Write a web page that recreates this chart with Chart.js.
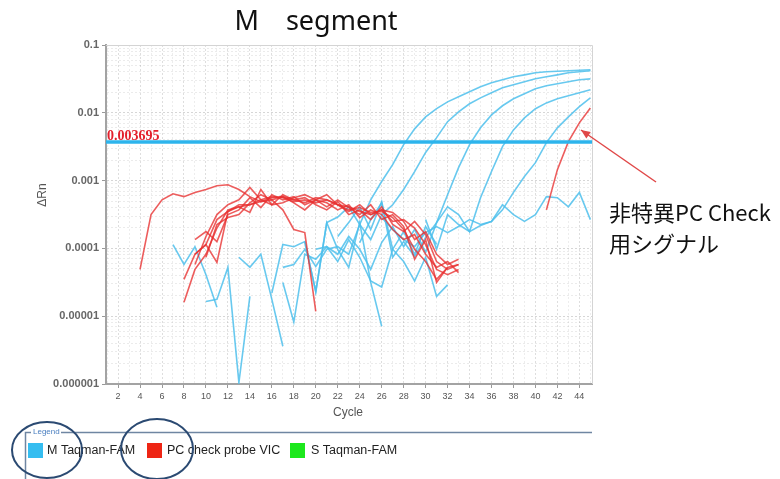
<!DOCTYPE html>
<html><head><meta charset="utf-8">
<script src="https://cdn.jsdelivr.net/npm/chart.js@4.4.1/dist/chart.umd.min.js"></script>
<style>html,body{margin:0;padding:0;background:#fff;}canvas{display:block;}</style>
</head><body>
<canvas id="c" width="780" height="479"></canvas>
<script>
// ---------- data ----------
const titleText = 'M\u3000segment';
const cycles = [1,2,3,4,5,6,7,8,9,10,11,12,13,14,15,16,17,18,19,20,21,22,23,24,25,26,27,28,29,30,31,32,33,34,35,36,37,38,39,40,41,42,43,44,45];
const xTickCycles = [2,4,6,8,10,12,14,16,18,20,22,24,26,28,30,32,34,36,38,40,42,44];
const yTickLabels = ['0.000001','0.00001','0.0001','0.001','0.01','0.1'];
const thresholdValue = 0.003695;
const thresholdLabel = '0.003695';

// M Taqman-FAM (blue) traces: start cycle + values
const mA_start = 17;
const mA = [5.25e-5,5.8e-5,9.7e-5,5.4e-5,9.7e-5,1.06e-4,8.2e-5,2.25e-4,5.2e-4,9.7e-4,1.72e-3,3.4e-3,5.8e-3,8.7e-3,1.15e-2,1.45e-2,1.72e-2,2.04e-2,2.42e-2,2.77e-2,3.07e-2,3.40e-2,3.63e-2,3.89e-2,4.03e-2,4.09e-2,4.17e-2,4.24e-2,4.31e-2];
const mB_start = 19;
const mB = [1.26e-4,2.3e-5,2.4e-4,2.9e-4,4.1e-4,2.25e-4,1.35e-4,3.15e-4,4.4e-4,7.4e-4,1.36e-3,2.6e-3,4.3e-3,7.4e-3,1.03e-2,1.36e-2,1.66e-2,1.97e-2,2.34e-2,2.59e-2,2.87e-2,3.17e-2,3.40e-2,3.63e-2,3.89e-2,4.03e-2,4.17e-2];
const mC_start = 20;
const mC = [9.7e-5,1.06e-4,8.2e-5,1.5e-4,9.7e-5,4.9e-5,1.22e-4,2.1e-4,1.06e-4,1.9e-4,8.7e-5,2.4e-4,6.2e-4,1.55e-3,3.4e-3,6.0e-3,9.3e-3,1.27e-2,1.61e-2,1.91e-2,2.26e-2,2.50e-2,2.68e-2,2.87e-2,3.07e-2,3.17e-2];
const mD_start = 24;
const mD = [1.22e-4,2.66e-4,4.7e-4,7.4e-5,1.26e-4,7.6e-5,1.45e-4,2.4e-4,4.1e-4,3.15e-4,1.77e-4,5.6e-4,1.36e-3,3.17e-3,5.6e-3,8.4e-3,1.15e-2,1.40e-2,1.61e-2,1.78e-2,1.97e-2,2.18e-2];
const mE_start = 26;
const mE = [2.85e-4,1.9e-4,1.35e-4,1.06e-4,1.71e-4,2.1e-4,1.71e-4,2.1e-4,2.66e-4,2.25e-4,2.5e-4,3.7e-4,6.7e-4,1.15e-3,1.84e-3,3.63e-3,6.0e-3,8.7e-3,1.23e-2,1.66e-2];
const mF_start = 30;
const mF = [2.66e-4,9.7e-5,3.15e-4,2.25e-4,1.77e-4,2.17e-4,2.5e-4,4.4e-4,3.15e-4,2.5e-4,3.15e-4,5.8e-4,5.6e-4,4.1e-4,6.7e-4,2.66e-4];
const mN1_start = 7;
const mN1 = [1.14e-4,5.8e-5,1.06e-4,4.1e-5,1.35e-5];
const mN2_start = 10;
const mN2 = [1.65e-5,1.77e-5,5.25e-5,1.05e-6,1.96e-5];
const mN3_start = 13;
const mN3 = [7.4e-5,5.25e-5,8.2e-5,1.77e-5,3.6e-6];
const mN4_start = 16;
const mN4 = [2.2e-5,1.14e-4,1.06e-4,1.26e-4,2.3e-5,2.4e-4,9.7e-5,5.25e-5,2.4e-4,3.15e-5,7.1e-6];
const mN5_start = 17;
const mN5 = [3.15e-5,8.2e-6,8.2e-5,6.9e-5,1.06e-4,6.4e-5,1.35e-4,7.4e-5,3.3e-5,2.7e-5,9.7e-5,6.4e-5,3.3e-5,7.4e-5,1.96e-5,2.9e-5];
const mN6_start = 22;
const mN6 = [1.5e-4,2.4e-4,4.1e-4,1.9e-4,4.9e-4,9.7e-5,1.77e-4,8.2e-5,2.1e-4,1.14e-4];

// PC check probe VIC (red) traces
const pc1_start = 4;
const pc1 = [4.9e-5,3.15e-4,5.2e-4,6.4e-4,5.8e-4,6.7e-4,7.4e-4,8.4e-4,8.7e-4,7.4e-4,5.8e-4,4.9e-4,5.6e-4,5.8e-4,5.2e-4,4.7e-4,5.6e-4,5.2e-4,4.4e-4,4.1e-4,3.5e-4,3.15e-4,3.7e-4,3.4e-4,2.5e-4,1.35e-4,1.77e-4,8.2e-5,5.8e-5,6.9e-5];
const pc2_start = 8;
const pc2 = [1.6e-5,4.9e-5,8.2e-5,2.0e-4,3.7e-4,4.1e-4,4.4e-4,5.2e-4,5.8e-4,5.6e-4,4.9e-4,5.2e-4,4.7e-4,5.2e-4,4.4e-4,3.7e-4,4.0e-4,3.4e-4,3.5e-4,2.85e-4,1.9e-4,9.7e-5,6.4e-5,3.5e-5,5.25e-5,5.8e-5];
const pc3_start = 9;
const pc3 = [1.35e-4,1.77e-4,1.26e-4,3.15e-4,3.7e-4,5.6e-4,4.0e-4,6.2e-4,5.2e-4,5.8e-4,4.4e-4,5.2e-4,6.2e-4,4.4e-4,3.5e-4,4.4e-4,3.15e-4,3.7e-4,2.5e-4,2.66e-4,2.0e-4,1.14e-4,4.9e-5,4.1e-5,4.9e-5];
const pc4_start = 9;
const pc4 = [8.2e-5,1.14e-4,6.2e-5,3.5e-4,4.1e-4,3.4e-4,7.4e-4,4.4e-4,4.7e-4,5.6e-4,6.2e-4,5.2e-4,4.1e-4,5.2e-4,4.0e-4,3.15e-4,4.4e-4,2.66e-4,3.15e-4,2.1e-4,6.9e-5,1.35e-4,3.15e-5,5.25e-5];
const pc5_start = 9;
const pc5 = [5.8e-5,1.5e-4,3.15e-4,4.4e-4,5.2e-4,7.9e-4,5.2e-4,4.4e-4,6.2e-4,5.2e-4,5.6e-4,4.4e-4,3.7e-4,4.9e-4,3.15e-4,3.7e-4,2.66e-4,4.1e-4,2.25e-4,1.77e-4,2.5e-4,1.6e-4,6.4e-5,4.9e-5,5.8e-5];
const pc6_start = 10;
const pc6 = [7.4e-5,2.25e-4,2.85e-4,3.15e-4,4.7e-4,6.2e-4,5.2e-4,5.8e-4,4.7e-4,3.7e-4,5.2e-4,4.7e-4,3.7e-4,4.4e-4,2.85e-4,3.7e-4,3.15e-4,1.9e-4,1.35e-4,1.6e-4,8.2e-5,5.25e-5,6.4e-5,4.4e-5];
const pc7_start = 8;
const pc7 = [3.5e-5,8.2e-5,1.14e-4,2.66e-4,3.5e-4,4.4e-4,4.4e-4,4.9e-4,5.2e-4,3.7e-4,1.9e-4,1.71e-4,1.18e-5];
const pcLate_start = 41;
const pcLate = [3.7e-4,1.45e-3,3.76e-3,7.1e-3,1.18e-2];

const legendItems = ['M Taqman-FAM','PC check probe VIC','S Taqman-FAM'];
const annotationLines = ['非特異PC Check','用シグナル'];

// ---------- build ----------
const X_MIN = 0.9, X_MAX = 45.15;
const BLUE = 'rgba(78,192,236,0.85)';
const RED = 'rgba(232,48,48,0.78)';
function pts(start, vals){ return vals.map((v,i)=>({x:start+i, y:v})); }
const blueSets = [[mA_start,mA],[mB_start,mB],[mC_start,mC],[mD_start,mD],[mE_start,mE],[mF_start,mF],
  [mN1_start,mN1],[mN2_start,mN2],[mN3_start,mN3],[mN4_start,mN4],[mN5_start,mN5],[mN6_start,mN6]];
const redSets = [[pc1_start,pc1],[pc2_start,pc2],[pc3_start,pc3],[pc4_start,pc4],[pc5_start,pc5],[pc6_start,pc6],[pc7_start,pc7],[pcLate_start,pcLate]];

const datasets = [{
  label:'threshold', data:[{x:X_MIN,y:thresholdValue},{x:X_MAX,y:thresholdValue}],
  borderColor:'#2db4ec', borderWidth:3.5, pointRadius:0
}];
redSets.forEach(s=>datasets.push({label:'PC', data:pts(s[0],s[1]), borderColor:RED, borderWidth:1.6, pointRadius:0}));
blueSets.forEach(s=>datasets.push({label:'M', data:pts(s[0],s[1]), borderColor:BLUE, borderWidth:1.6, pointRadius:0}));

function isDecade(v){ const e=Math.log10(v); return Math.abs(e-Math.round(e))<1e-6; }

const extras = {
  id:'extras',
  afterDraw(chart){
    const ctx = chart.ctx, a = chart.chartArea, ys = chart.scales.y;
    ctx.save();
    // plot frame top/right
    ctx.strokeStyle='#d4d4d4'; ctx.lineWidth=1;
    ctx.beginPath(); ctx.moveTo(a.left, a.top+0.5); ctx.lineTo(a.right+0.5, a.top+0.5); ctx.lineTo(a.right+0.5, a.bottom); ctx.stroke();
    // threshold label
    const ty = ys.getPixelForValue(thresholdValue);
    ctx.fillStyle='#e3202c'; ctx.font='bold 14px "Liberation Serif"'; ctx.textAlign='left'; ctx.textBaseline='alphabetic';
    ctx.fillText(thresholdLabel, a.left+1, ty-2);
    // title
    ctx.fillStyle='#111'; ctx.font='27px "Noto Sans"'; ctx.textAlign='center';
    ctx.fillText(titleText, 316, 30);
    // axis titles
    ctx.fillStyle='#555'; ctx.font='12px "Liberation Sans"';
    ctx.fillText('Cycle', 348, 416);
    ctx.save(); ctx.translate(46, 195); ctx.rotate(-Math.PI/2); ctx.textBaseline='alphabetic'; ctx.fillText('ΔRn', 0, 0); ctx.restore();
    // annotation arrow
    ctx.strokeStyle='#e04848'; ctx.fillStyle='#e04848'; ctx.lineWidth=1.5;
    const x1=656,y1=182,x2=581,y2=130;
    ctx.beginPath(); ctx.moveTo(x1,y1); ctx.lineTo(x2,y2); ctx.stroke();
    const ang=Math.atan2(y2-y1,x2-x1), L=10, W=0.4;
    ctx.beginPath(); ctx.moveTo(x2,y2);
    ctx.lineTo(x2-L*Math.cos(ang-W), y2-L*Math.sin(ang-W));
    ctx.lineTo(x2-L*Math.cos(ang+W), y2-L*Math.sin(ang+W)); ctx.closePath(); ctx.fill();
    // annotation text
    ctx.fillStyle='#111'; ctx.font='22px "Noto Sans CJK JP"'; ctx.textAlign='left';
    ctx.fillText(annotationLines[0], 609, 221);
    ctx.fillText(annotationLines[1], 609, 252);
    // legend frame
    ctx.strokeStyle='#6f86a2'; ctx.lineWidth=1.5;
    ctx.beginPath(); ctx.moveTo(25.5,479); ctx.lineTo(25.5,432.5); ctx.lineTo(31,432.5);
    ctx.moveTo(61,432.5); ctx.lineTo(592,432.5); ctx.stroke();
    ctx.fillStyle='#4a7fc0'; ctx.font='8px "Liberation Sans"'; ctx.textBaseline='middle';
    ctx.fillText('Legend', 33, 432);
    const sw=[[28,'#35bdf0'],[147,'#ee2514'],[290,'#1de81d']];
    const tx=[47,167,311];
    ctx.font='12.5px "Liberation Sans"';
    for(let i=0;i<3;i++){
      ctx.fillStyle=sw[i][1]; ctx.fillRect(sw[i][0],443,15,15);
      ctx.fillStyle='#222'; ctx.fillText(legendItems[i], tx[i], 451);
    }
    // hand-drawn circles
    ctx.strokeStyle='#2b4a72'; ctx.lineWidth=2;
    ctx.beginPath(); ctx.ellipse(47,450,35,28,0,0,Math.PI*2); ctx.stroke();
    ctx.beginPath(); ctx.ellipse(157,449,36,30,0,0,Math.PI*2); ctx.stroke();
    ctx.restore();
  }
};

new Chart(document.getElementById('c'), {
  type:'line',
  data:{datasets},
  options:{
    responsive:false, animation:false, devicePixelRatio:1,
    layout:{padding:{left:0,right:188,top:45,bottom:0}},
    plugins:{legend:{display:false}, tooltip:{enabled:false}, title:{display:false}},
    elements:{line:{tension:0}, point:{radius:0}},
    scales:{
      x:{type:'linear', min:X_MIN, max:X_MAX,
        afterBuildTicks:s=>{ s.ticks = cycles.map(c=>({value:c})); },
        afterFit:s=>{ s.height = 95; },
        ticks:{autoSkip:false, maxRotation:0, padding:3, color:'#555', font:{family:'Liberation Sans', size:9},
          callback:v=> xTickCycles.includes(v) ? String(v) : ''},
        grid:{color:c=> (c.tick && xTickCycles.includes(c.tick.value)) ? 'rgba(0,0,0,0.13)' : 'rgba(0,0,0,0.07)',
          tickLength:4, tickColor:c=> (c.tick && xTickCycles.includes(c.tick.value)) ? '#999' : 'rgba(0,0,0,0)'},
        border:{color:'#a3a3a3', width:2, dash:[2,2]}
      },
      y:{type:'logarithmic', min:1e-6, max:0.1,
        afterBuildTicks:s=>{ const t=[]; for(let e=-6;e<-1;e++){ for(let m=1;m<10;m++){ t.push({value:m*Math.pow(10,e)}); } } t.push({value:0.1}); s.ticks=t; },
        afterFit:s=>{ s.width = 106; },
        ticks:{autoSkip:false, padding:3, color:'#666', font:{family:'Liberation Sans', size:11, weight:'bold'},
          callback:v=> isDecade(v) ? yTickLabels[Math.round(Math.log10(v))+6] : ''},
        grid:{color:c=> (c.tick && isDecade(c.tick.value)) ? 'rgba(0,0,0,0.16)' : 'rgba(0,0,0,0.08)',
          tickLength:4, tickColor:c=> (c.tick && isDecade(c.tick.value)) ? '#999' : 'rgba(0,0,0,0)'},
        border:{color:'#a3a3a3', width:2, dash:[2,2]}
      }
    }
  },
  plugins:[extras]
});
</script>
</body></html>
